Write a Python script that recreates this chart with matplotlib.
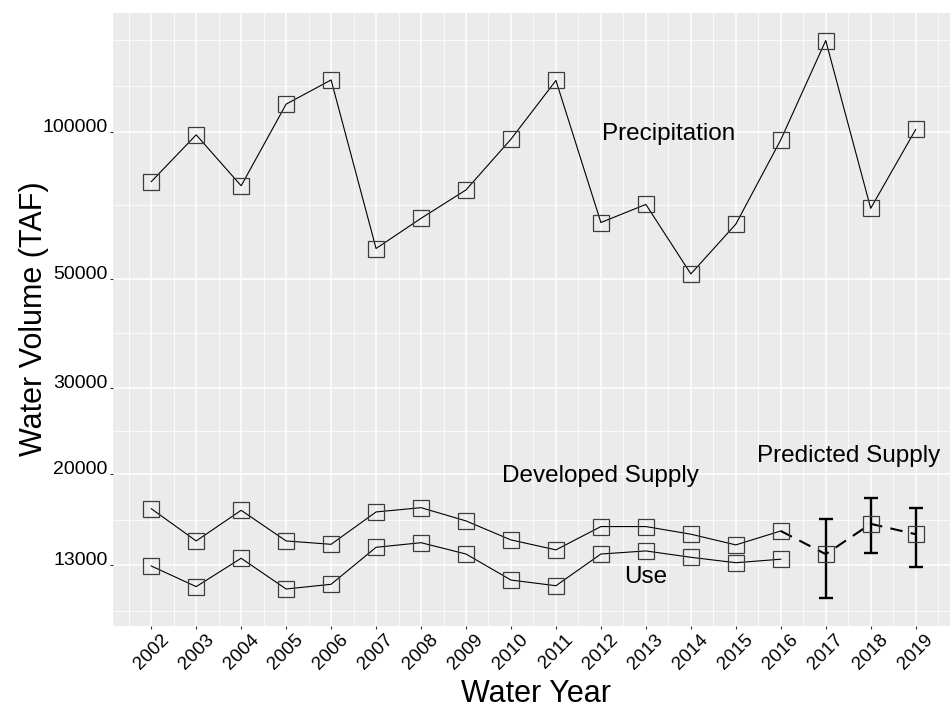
import numpy as np
import matplotlib
matplotlib.use("Agg")
import matplotlib.pyplot as plt
from matplotlib.ticker import NullFormatter

plt.rcParams["font.family"] = ["Liberation Sans", "DejaVu Sans"]

# values (TAF)
years = list(range(2002, 2020))
precipitation = [79000, 98500, 77500, 113800, 127500, 57700, 66500, 76000, 96500,
                 127200, 65200, 71000, 51200, 64700, 96200, 153500, 69700, 101000]

supply_years = list(range(2002, 2017))
developed_supply = [16970, 14580, 16840, 14580, 14350, 16710, 17050, 16020, 14650,
                    13980, 15600, 15600, 15050, 14310, 15280]
use = [12960, 11760, 13440, 11630, 11890, 14150, 14460, 13710, 12130,
       11810, 13710, 13910, 13500, 13160, 13380]

predicted_years = [2017, 2018, 2019]
predicted_supply = [13700, 15800, 15050]
predicted_low = [11130, 13750, 12920]
predicted_high = [16140, 17870, 17050]

y_breaks = [13000, 20000, 30000, 50000, 100000]
y_labels = ["13000", "20000", "30000", "50000", "100000"]

PANEL = "#EBEBEB"
MARKER_EDGE = "#3c3c3c"


def minor_log_breaks(breaks):
    # ggplot style: midpoints in log space, extended one step past each end
    logs = np.log10(breaks)
    step = logs[1] - logs[0]
    ext = np.concatenate([[logs[0] - step], logs, [logs[-1] + step]])
    mids = (ext[:-1] + ext[1:]) / 2
    return 10 ** np.concatenate([mids, [ext[-1]]])


def draw_series(ax, x, y):
    ax.plot(x, y, color="black", lw=0.8, zorder=3)
    ax.plot(x, y, ls="none", marker="s", ms=11, mfc="none",
            mec=MARKER_EDGE, mew=0.9, zorder=4)


fig = plt.figure(figsize=(9.5, 7.08), dpi=100)
ax = fig.add_axes([113 / 950, 1 - 626 / 708, (953.9 - 113) / 950, (626 - 13) / 708])
ax.set_facecolor(PANEL)
for side in ax.spines.values():
    side.set_visible(False)

ax.set_yscale("log")
ax.set_xlim(2001.15, 2019.85)
ax.set_ylim(9772, 174700)

ax.set_yticks(y_breaks)
ax.set_yticklabels(y_labels)
ax.set_yticks(minor_log_breaks(y_breaks), minor=True)
ax.yaxis.set_minor_formatter(NullFormatter())
ax.set_xticks(years)
ax.set_xticklabels([str(y) for y in years], rotation=45, ha="center", va="center")
ax.set_xticks(np.arange(years[0] - 0.5, years[-1] + 1, 1.0), minor=True)
ax.xaxis.set_minor_formatter(NullFormatter())

ax.grid(which="major", color="white", lw=1.1)
ax.grid(which="minor", color="white", lw=0.55)
ax.set_axisbelow(True)

ax.tick_params(which="minor", length=0)
ax.tick_params(which="major", length=2, width=0.8, color="#333333",
               labelsize=14, labelcolor="black")
ax.tick_params(axis="x", pad=16.5, labelsize=13.5)
ax.tick_params(axis="y", pad=2)
for lab in ax.get_yticklabels():
    lab.set_verticalalignment("baseline")

draw_series(ax, years, precipitation)
draw_series(ax, supply_years, developed_supply)
draw_series(ax, supply_years, use)

# dashed link from the last developed supply value into the predictions
dash_x = [supply_years[-1]] + predicted_years
dash_y = [developed_supply[-1]] + predicted_supply
ax.plot(dash_x, dash_y, color="black", lw=1.5, ls=(0, (6, 4)), zorder=3)
err = [np.array(predicted_supply) - np.array(predicted_low),
       np.array(predicted_high) - np.array(predicted_supply)]
ax.errorbar(predicted_years, predicted_supply, yerr=err, fmt="none",
            ecolor="black", elinewidth=1.7, capsize=5, capthick=1.7, zorder=5)
ax.plot(predicted_years, predicted_supply, ls="none", marker="s", ms=11,
        mfc="none", mec=MARKER_EDGE, mew=0.9, zorder=6)

text_kw = dict(ha="center", va="center_baseline", fontsize=17.5, color="black")
ax.text(2013.5, 100000, "Precipitation", **text_kw)
ax.text(2012, 20000, "Developed Supply", **text_kw)
ax.text(2013, 12480, "Use", **text_kw)
ax.text(2017.5, 22000, "Predicted Supply", **text_kw)

ax.set_xlabel("Water Year", fontsize=22, va="baseline")
ax.set_ylabel("Water Volume (TAF)", fontsize=22, va="center")
ax.xaxis.set_label_coords(0.5036, -(702 - 626) / 613)
ax.yaxis.set_label_coords(-0.0943, 0.5008)

fig.savefig("out.png", dpi=100)
